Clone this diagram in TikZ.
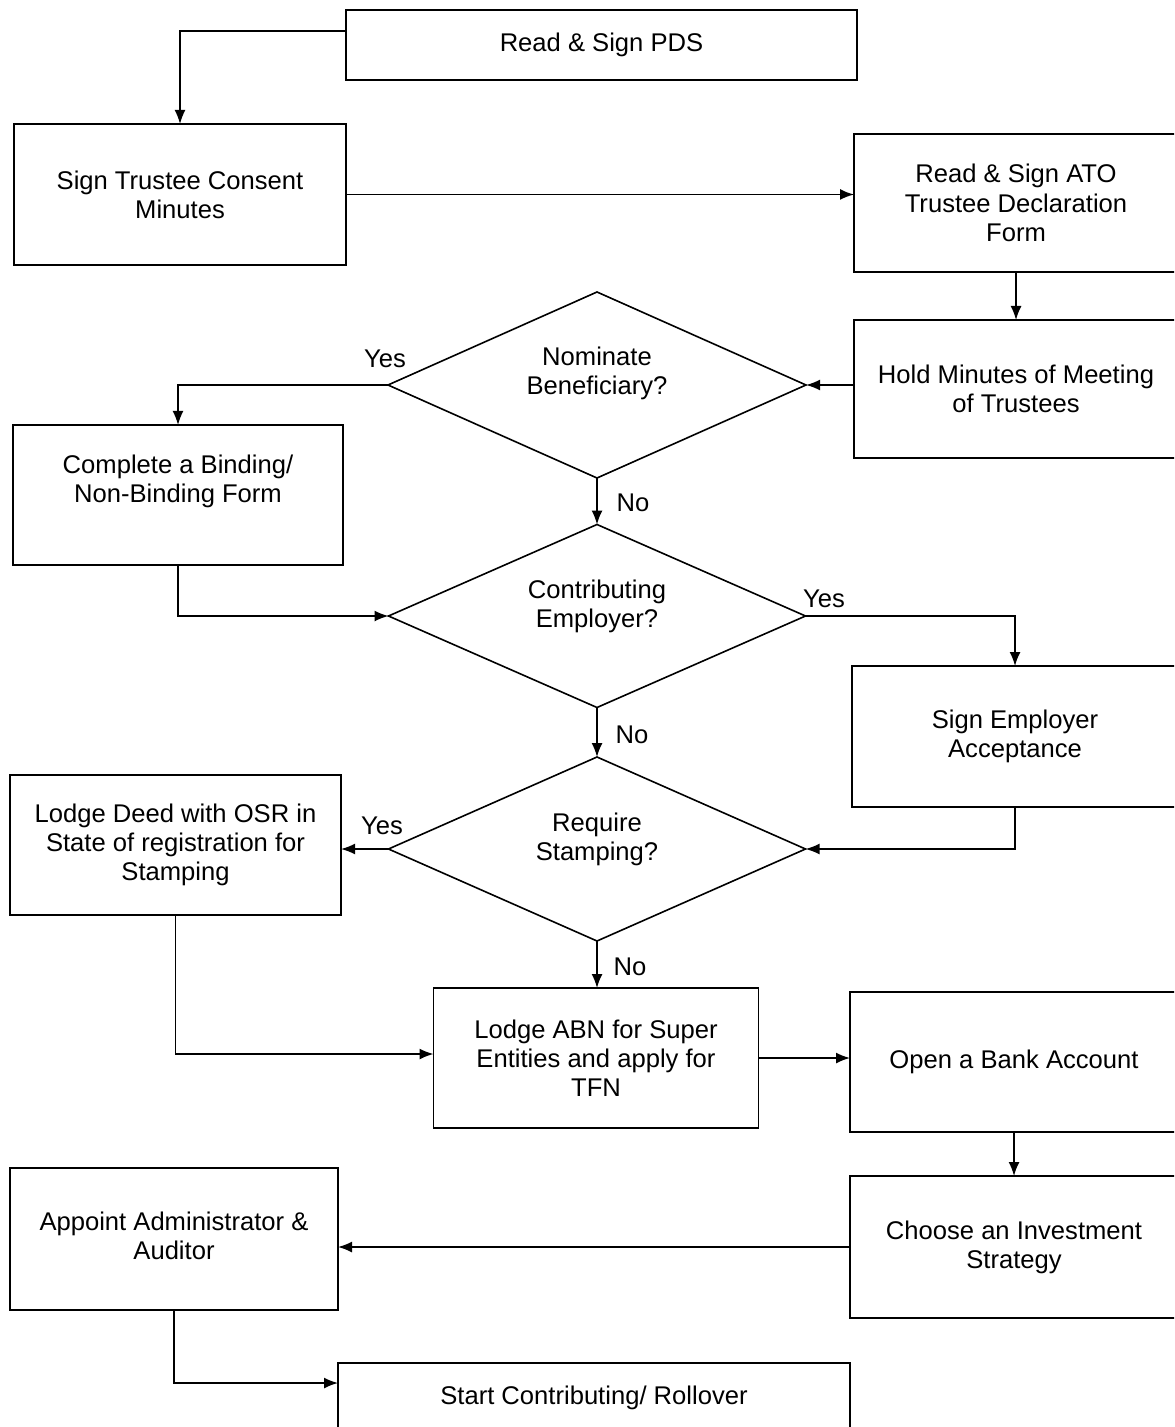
\documentclass[tikz,border=0pt]{standalone}
\usepackage{fontspec}
\setmainfont{Liberation Sans}
\usetikzlibrary{shapes.geometric,arrows.meta}
\begin{document}
\begin{tikzpicture}[x=0.5pt,y=-0.5pt,
  every node/.style={font=\fontsize{12.8pt}{14.6pt}\selectfont},
  box/.style={draw, line width=0.8pt, rectangle, inner sep=0pt, outer sep=0pt, align=center},
  dia/.style={draw, line width=0.8pt, diamond, inner sep=0pt, outer sep=0pt},
  txt/.style={align=center, inner sep=0pt},
  arr/.style={line width=0.8pt, -{Latex[length=7pt,width=5.5pt]}},
  lbl/.style={inner sep=0pt}]
\useasboundingbox (0,0) rectangle (1174,1427);
\clip (0,0) rectangle (1174,1427);

% boxes
\node[box, minimum width=255.5pt, minimum height=35pt] (pds) at (601.5,45) {Read \& Sign PDS};
\node[box, minimum width=166pt, minimum height=70.5pt] (trustee) at (180,194.5) {Sign Trustee Consent\\Minutes};
\node[box, minimum width=162pt, minimum height=69pt] (ato) at (1016,203) {Read \& Sign ATO\\Trustee Declaration\\Form};
\node[box, minimum width=162pt, minimum height=69pt] (hold) at (1016,389) {Hold Minutes of Meeting\\of Trustees};
\node[box, minimum width=165pt, minimum height=70pt] (bind) at (178,495) {};
\node[txt] (bindtxt) at (178,481) {Complete a Binding/\\Non-Binding Form};
\node[box, minimum width=163pt, minimum height=70.5pt] (employer) at (1015,736.5) {Sign Employer\\Acceptance};
\node[box, minimum width=165.5pt, minimum height=70pt] (deed) at (175.5,845) {Lodge Deed with OSR in\\State of registration for\\Stamping};
\node[box, minimum width=162.5pt, minimum height=70pt] (abn) at (596,1058) {Lodge ABN for Super\\Entities and apply for\\TFN};
\node[box, minimum width=164pt, minimum height=70pt] (bank) at (1014,1062) {Open a Bank Account};
\node[box, minimum width=164pt, minimum height=71pt] (invest) at (1014,1247) {Choose an Investment\\Strategy};
\node[box, minimum width=164pt, minimum height=71pt] (appoint) at (174,1239) {};
\node[txt] (appointtxt) at (174,1236) {Appoint Administrator \&\\Auditor};
\node[box, minimum width=256pt, minimum height=35pt] (start) at (594,1398) {Start Contributing/ Rollover};

% decisions
\node[dia, minimum width=209pt, minimum height=93pt] (d1) at (597,385) {};
\node[txt] (d1txt) at (597,373) {Nominate\\Beneficiary?};
\node[dia, minimum width=208.5pt, minimum height=91.5pt] (d2) at (597,616) {};
\node[txt] (d2txt) at (597,606) {Contributing\\Employer?};
\node[dia, minimum width=208.5pt, minimum height=92pt] (d3) at (597,849) {};
\node[txt] (d3txt) at (597,839) {Require\\Stamping?};

% connectors
\draw[arr] ([yshift=7pt]pds.west) -| (trustee.north);
\draw[arr] (trustee.east) -- (trustee.east -| ato.west);
\draw[arr] (ato.south) -- (hold.north);
\draw[arr] (hold.west |- d1.east) -- (d1.east);
\draw[arr] (d1.west) -| (bind.north);
\draw[arr] (d1.south) -- (d2.north);
\draw[arr] (bind.south) |- (d2.west);
\draw[arr] (d2.east) -| (employer.north);
\draw[arr] (d2.south) -- (d3.north);
\draw[arr] (employer.south) |- (d3.east);
\draw[arr] (d3.west) -- (d3.west -| deed.east);
\draw[arr] (d3.south) -- (d3.south |- abn.north);
\draw[arr] (deed.south) |- ([yshift=2pt]abn.west);
\draw[arr] (abn.east) -- (abn.east -| bank.west);
\draw[arr] (bank.south) -- (invest.north);
\draw[arr] (invest.west) -- (invest.west -| appoint.east);
\draw[arr] (appoint.south) |- ([yshift=7.5pt]start.west);

% labels
\node[lbl] (yes1) at (385,359) {Yes};
\node[lbl] (no1) at (633,503) {No};
\node[lbl] (yes2) at (824,599) {Yes};
\node[lbl] (no2) at (632,735) {No};
\node[lbl] (yes3) at (382,826) {Yes};
\node[lbl] (no3) at (630,967) {No};
\end{tikzpicture}
\end{document}
